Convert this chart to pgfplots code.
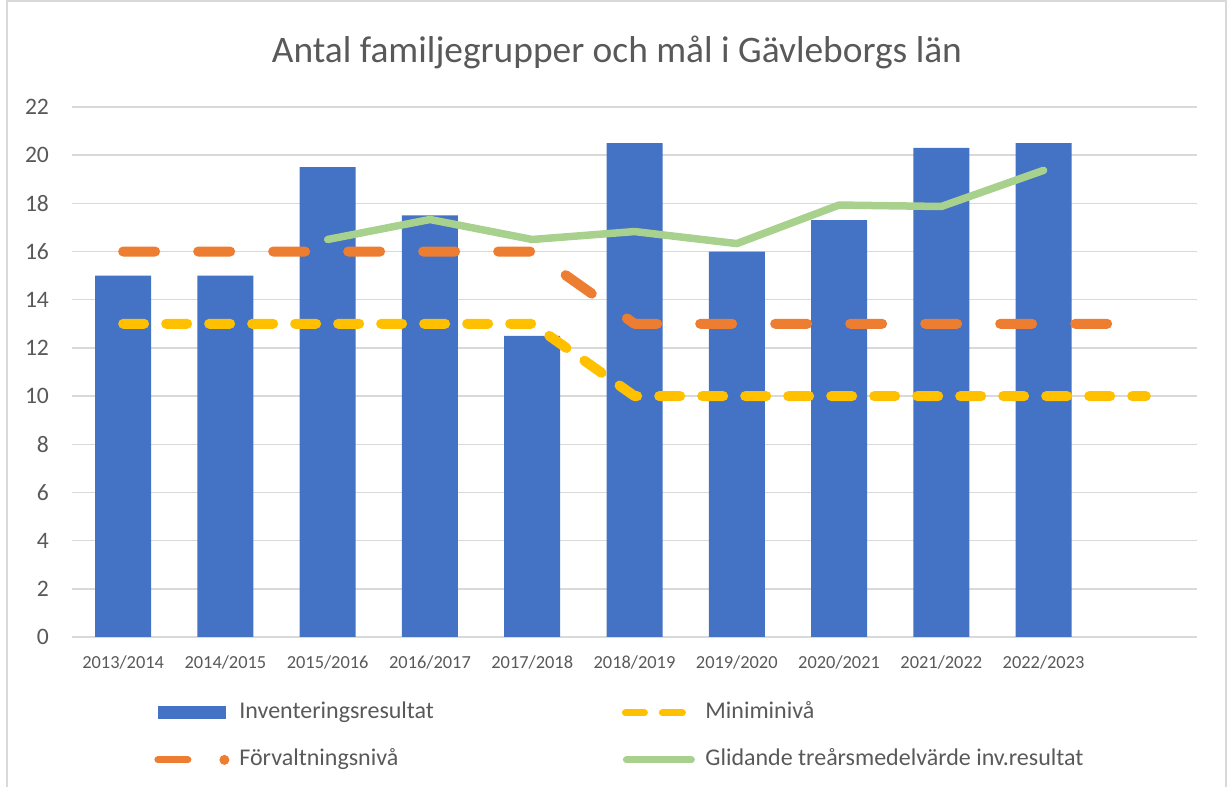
\documentclass[border=0pt]{standalone}
\usepackage{pgfplots}
\pgfplotsset{compat=1.18}
\usepackage{fontspec}
\setmainfont{Carlito}
\definecolor{barblue}{HTML}{4472C4}
\definecolor{orangeline}{HTML}{ED7D31}
\definecolor{yellowline}{HTML}{FFC000}
\definecolor{greenline}{HTML}{A9D18E}
\definecolor{gridgray}{HTML}{D9D9D9}
\definecolor{textgray}{HTML}{595959}
\begin{document}
\begin{tikzpicture}[x=1pt,y=1pt]
\useasboundingbox (0,0) rectangle (616,393.5);
\draw[gridgray, line width=0.75pt] (3.5,-2) rectangle (613,393);
\begin{axis}[
  at={(36pt,75pt)}, anchor=south west,
  width=562.5pt, height=265pt, scale only axis,
  xmin=-0.5, xmax=10.5, ymin=0, ymax=22,
  ytick={0,2,...,22},
  xtick={0,1,2,3,4,5,6,7,8,9},
  xticklabels={2013/2014,2014/2015,2015/2016,2016/2017,2017/2018,2018/2019,2019/2020,2020/2021,2021/2022,2022/2023},
  /pgf/number format/assume math mode=true,
  ymajorgrids, grid style={gridgray, line width=0.75pt},
  axis x line*=bottom, axis y line*=left,
  x axis line style={gridgray, line width=0.75pt},
  y axis line style={draw=none},
  tick style={draw=none}, major tick length=0pt,
  yticklabel style={font=\fontsize{11.8}{13}\selectfont, text=textgray, xshift=-8pt},
  xticklabel style={font=\fontsize{9.2}{11}\selectfont, text=textgray, yshift=-6pt},
  title={Antal familjegrupper och mål i Gävleborgs län},
  title style={at={(0.4844,1.081)}, anchor=center, font=\fontsize{18.7}{22}\selectfont, text=textgray},
  legend columns=2,
  legend style={draw=none, fill=none, at={(0.06844,-0.12075)}, anchor=north west,
    inner sep=0pt, row sep=12pt, column sep=0pt,
    nodes={inner sep=0pt, text height=8.5pt, text depth=3pt, text=textgray, font=\fontsize{12}{14}\selectfont},
    cells={anchor=west}},
]
\addplot[ybar, bar width=28pt, fill=barblue, draw=none,
  legend image code/.code={\path[fill=barblue, draw=none] (2pt,-3.25pt) rectangle (36pt,3.25pt); \path (0pt,0pt) (40pt,0pt);}]
  coordinates {(0,15) (1,15) (2,19.5) (3,17.5) (4,12.5) (5,20.5) (6,16) (7,17.3) (8,20.3) (9,20.5)};
\addlegendentry{\makebox[188pt][l]{Inventeringsresultat}}
\addplot[yellowline, line width=5pt, line cap=round, line join=round, dash pattern=on 10.5pt off 11pt,
  legend image code/.code={\draw[solid, yellowline, line width=3.5pt, line cap=round] (2.5pt,0pt) -- (12pt,0pt) (21pt,0pt) -- (31pt,0pt); \path (0pt,0pt) (40pt,0pt);}]
  coordinates {(0,13) (1,13) (2,13) (3,13) (4,13) (5,10) (6,10) (7,10) (8,10) (9,10) (10,10)};
\addlegendentry{Miniminivå}
\addplot[orangeline, line width=5pt, line cap=round, line join=round, dash pattern=on 16pt off 21.5pt,
  legend image code/.code={\draw[solid, orangeline, line width=3.5pt, line cap=round] (1.75pt,0pt) -- (16.75pt,0pt); \path[fill=orangeline, draw=none] (35pt,0pt) circle (2.5pt); \path (0pt,0pt) (40pt,0pt);}]
  coordinates {(0,16) (1,16) (2,16) (3,16) (4,16) (5,13) (6,13) (7,13) (8,13) (9,13) (10,13)};
\addlegendentry{\makebox[188pt][l]{Förvaltningsnivå}}
\addplot[greenline, line width=3.75pt, line cap=round, line join=round,
  legend image code/.code={\draw[solid, greenline, line width=3.5pt, line cap=round] (3pt,0pt) -- (35.5pt,0pt); \path (0pt,0pt) (40pt,0pt);}]
  coordinates {(2,16.5) (3,17.33) (4,16.5) (5,16.83) (6,16.33) (7,17.93) (8,17.87) (9,19.37)};
\addlegendentry{Glidande treårsmedelvärde inv.resultat}
\end{axis}
\end{tikzpicture}
\end{document}
